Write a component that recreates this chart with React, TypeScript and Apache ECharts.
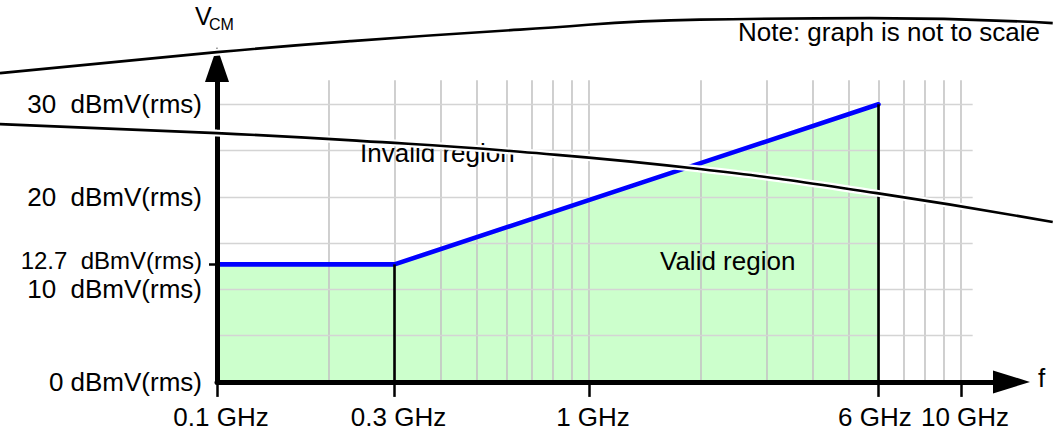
import React, { useEffect, useRef } from 'react';
import * as echarts from 'echarts';

// ---- data ----
const freqTicks = [0.1, 0.3, 1, 6, 10];
const freqTickLabels = ['0.1 GHz', '0.3 GHz', '1 GHz', '6 GHz', '10 GHz'];
const freqCrowdedTicks = [6]; // label nudged left in the reference
const levelTicks = [0, 10, 12.7, 20, 30];
const levelTickLabels = ['0 dBmV(rms)', '10  dBmV(rms)', '12.7  dBmV(rms)', '20  dBmV(rms)', '30  dBmV(rms)'];
const levelMarkedTicks = [12.7];

const limitFreq = [0.1, 0.3, 6];
const limitLevel = [12.7, 12.7, 30];

const gridFreqs = [0.2, 0.3, 0.4, 0.5, 0.6, 0.7, 0.8, 0.9, 1, 2, 3, 4, 5, 6, 7, 8, 9, 10];
const gridLevels = [5, 10, 15, 20, 25, 30];

const freqMin = 0.1;
const freqMax = 13.67;
const levelMin = 0;
const levelMax = 34.3;
const gridFreqMax = 10.75;
const gridLevelMax = 32.6;
const crowdedLabelLift = 0.4; // the 12.7 label sits slightly above its tick in the reference

// scale-break curves ("not to scale"), drawn on a full-page overlay scale with the same mapping
const curveFreqMin = 0.0261;
const curveFreqMax = 17.7;
const curveLevelMin = -5.74;
const curveLevelMax = 41.29;
const upperCurveFreq = [0.0261, 0.1, 0.228, 0.6525, 1.988, 5.694, 17.67];
const upperCurveLevel = [33.38, 35.65, 36.84, 38.09, 39.17, 39.33, 38.79];
const lowerCurveFreq = [0.0261, 0.1, 0.2422, 0.6525, 1.988, 5.945, 17.67];
const lowerCurveLevel = [27.87, 26.9, 26.06, 24.88, 23.01, 20.41, 17.28];

const FONT = '"Liberation Sans", Arial, Helvetica, sans-serif';

function pairs(xs: number[], ys: number[]) {
  return xs.map((x, i) => [x, ys[i]]);
}

const freqLabel = (v: number) => {
  const i = freqTicks.findIndex((t) => Math.abs(Math.log10(t) - Math.log10(v)) < 1e-6);
  return i >= 0 ? freqTickLabels[i] : '';
};
const levelLabel = (v: number) => {
  const i = levelTicks.findIndex((t) => Math.abs(t - v) < 1e-6);
  return i >= 0 ? levelTickLabels[i] : '';
};

export default function App() {
  const ref = useRef<HTMLDivElement>(null);
  useEffect(() => {
    if (!ref.current) return;
    const chart = echarts.init(ref.current, null, { renderer: 'svg' });
    const limitData = pairs(limitFreq, limitLevel);

    const curveSeries = (xs: number[], ys: number[], z: number) => [
      {
        type: 'line',
        xAxisIndex: 1,
        yAxisIndex: 1,
        data: pairs(xs, ys),
        smooth: 0.5,
        showSymbol: false,
        symbol: 'none',
        clip: false,
        silent: true,
        z: z,
        lineStyle: { color: '#ffffff', width: 7 },
      },
      {
        type: 'line',
        xAxisIndex: 1,
        yAxisIndex: 1,
        data: pairs(xs, ys),
        smooth: 0.5,
        showSymbol: false,
        symbol: 'none',
        clip: false,
        silent: true,
        z: z + 1,
        lineStyle: { color: '#000000', width: 2.6 },
      },
    ];

    const hiddenLine = { show: false };

    const option: any = {
      animation: false,
      grid: [
        { left: 217, right: 41.5, top: 64.5, bottom: 53.1, containLabel: false },
        { left: 0, right: 0, top: 0, bottom: 0, containLabel: false },
      ],
      xAxis: [
        {
          type: 'log',
          gridIndex: 0,
          position: 'bottom',
          logBase: 10,
          min: freqMin,
          max: freqMax,
          z: 10,
          axisLine: {
            show: true,
            lineStyle: { color: '#000', width: 5 },
            symbol: ['none', 'triangle'],
            symbolSize: [23, 37],
          },
          axisTick: {
            show: true,
            customValues: freqTicks,
            length: 15,
            lineStyle: { color: '#000', width: 2.5 },
          },
          axisLabel: {
            show: true,
            customValues: freqTicks.filter((f) => !freqCrowdedTicks.includes(f)),
            margin: 22,
            padding: [0, 0, 0, 8],
            color: '#000',
            fontSize: 26,
            fontFamily: FONT,
            formatter: freqLabel,
          },
          splitLine: hiddenLine,
          minorTick: hiddenLine,
        },
        {
          type: 'log',
          gridIndex: 1,
          logBase: 10,
          min: curveFreqMin,
          max: curveFreqMax,
          show: false,
        },
        {
          type: 'log',
          gridIndex: 0,
          position: 'bottom',
          offset: 0,
          logBase: 10,
          min: freqMin,
          max: freqMax,
          z: 10,
          axisLine: hiddenLine,
          axisTick: hiddenLine,
          splitLine: hiddenLine,
          minorTick: hiddenLine,
          axisLabel: {
            show: true,
            customValues: freqCrowdedTicks,
            margin: 22,
            padding: [0, 7, 0, 0],
            color: '#000',
            fontSize: 26,
            fontFamily: FONT,
            formatter: freqLabel,
          },
        },
      ],
      yAxis: [
        {
          type: 'value',
          gridIndex: 0,
          position: 'left',
          min: levelMin,
          max: levelMax,
          z: 10,
          axisLine: {
            show: true,
            onZero: false,
            lineStyle: { color: '#000', width: 5 },
            symbol: ['none', 'triangle'],
            symbolSize: [24, 35],
          },
          axisTick: {
            show: true,
            customValues: levelMarkedTicks,
            length: 8,
            lineStyle: { color: '#000', width: 2.5 },
          },
          axisLabel: {
            show: true,
            customValues: levelTicks.filter((l) => !levelMarkedTicks.includes(l)),
            margin: 15,
            color: '#000',
            fontSize: 26,
            fontFamily: FONT,
            formatter: levelLabel,
          },
          splitLine: hiddenLine,
        },
        {
          type: 'value',
          gridIndex: 1,
          min: curveLevelMin,
          max: curveLevelMax,
          show: false,
        },
        {
          type: 'value',
          gridIndex: 0,
          position: 'left',
          offset: 0,
          min: levelMin - crowdedLabelLift,
          max: levelMax - crowdedLabelLift,
          z: 10,
          axisLine: { show: false, onZero: false },
          axisTick: hiddenLine,
          axisLabel: {
            show: true,
            customValues: levelMarkedTicks,
            margin: 15,
            color: '#000',
            fontSize: 24,
            fontFamily: FONT,
            formatter: levelLabel,
          },
          splitLine: hiddenLine,
        },
      ],
      series: [
        {
          type: 'line',
          data: limitData,
          showSymbol: false,
          symbol: 'none',
          silent: true,
          z: 1,
          lineStyle: { width: 0, opacity: 0 },
          areaStyle: { color: '#ccffcc', opacity: 1 },
        },
        {
          type: 'line',
          data: [],
          silent: true,
          z: 2,
          markLine: {
            silent: true,
            z: 2,
            symbol: ['none', 'none'],
            label: { show: false },
            animation: false,
            data: [
              ...gridFreqs.map((f) => [
                { coord: [f, levelMin], lineStyle: { color: '#c4c4c4', width: 1.6, type: 'solid' } },
                { coord: [f, gridLevelMax] },
              ]),
              ...gridLevels.map((l) => [
                { coord: [freqMin, l], lineStyle: { color: '#d4d4d4', width: 1.4, type: 'solid' } },
                { coord: [gridFreqMax, l] },
              ]),
            ],
          },
        },
        {
          type: 'line',
          data: limitData,
          showSymbol: false,
          symbol: 'none',
          silent: true,
          z: 4,
          lineStyle: { color: '#0000ff', width: 4.6, cap: 'round', join: 'round' },
          markLine: {
            silent: true,
            z: 5,
            symbol: ['none', 'none'],
            label: { show: false },
            animation: false,
            data: limitData.slice(1).map((p) => [
              { coord: [p[0], levelMin], lineStyle: { color: '#000', width: 2.6, type: 'solid' } },
              { coord: [p[0], p[1]] },
            ]),
          },
        },
        ...curveSeries(upperCurveFreq, upperCurveLevel, 20),
        ...curveSeries(lowerCurveFreq, lowerCurveLevel, 20),
      ],
      graphic: [
        { type: 'text', x: 195, y: 16, z: 8, style: { text: 'V', font: `25px ${FONT}`, fill: '#000', textAlign: 'left', textVerticalAlign: 'middle' } },
        { type: 'text', x: 209, y: 24.5, z: 8, style: { text: 'CM', font: `16px ${FONT}`, fill: '#000', textAlign: 'left', textVerticalAlign: 'middle' } },
        { type: 'text', x: 1038, y: 378, z: 8, style: { text: 'f', font: `26px ${FONT}`, fill: '#000', textAlign: 'left', textVerticalAlign: 'middle' } },
        { type: 'text', x: 738, y: 31.5, z: 8, style: { text: 'Note: graph is not to scale', font: `26px ${FONT}`, fill: '#000', textAlign: 'left', textVerticalAlign: 'middle' } },
        { type: 'text', x: 360, y: 152.5, z: 8, style: { text: 'Invalid region', font: `26px ${FONT}`, fill: '#000', textAlign: 'left', textVerticalAlign: 'middle' } },
        { type: 'text', x: 660, y: 261, z: 8, style: { text: 'Valid region', font: `26px ${FONT}`, fill: '#000', textAlign: 'left', textVerticalAlign: 'middle' } },
      ],
    };
    chart.setOption(option);
    return () => chart.dispose();
  }, []);
  return <div ref={ref} style={{ position: 'fixed', left: 0, top: 0, width: 1053, height: 435, background: '#fff' }} />;
}
